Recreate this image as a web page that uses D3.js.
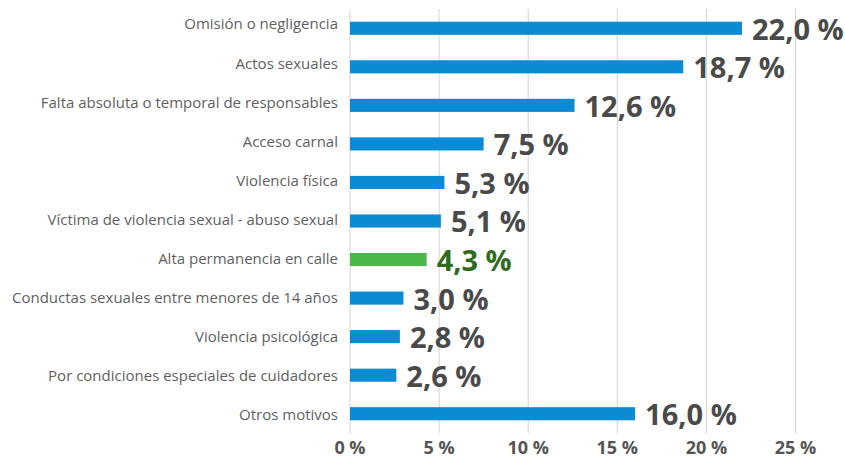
<!DOCTYPE html>
<html>
<head>
<meta charset="utf-8">
<script src="https://cdn.jsdelivr.net/npm/d3@7/dist/d3.min.js"></script>
<style>
  body { margin: 0; background: #fff; }
  svg { display: block; }
</style>
</head>
<body>
<div id="chart"></div>
<script>
// Motivos de ingreso (porcentaje)
const categories = [
  'Omisión o negligencia',
  'Actos sexuales',
  'Falta absoluta o temporal de responsables',
  'Acceso carnal',
  'Violencia física',
  'Víctima de violencia sexual - abuso sexual',
  'Alta permanencia en calle',
  'Conductas sexuales entre menores de 14 años',
  'Violencia psicológica',
  'Por condiciones especiales de cuidadores',
  'Otros motivos'
];
const values = [22.0, 18.7, 12.6, 7.5, 5.3, 5.1, 4.3, 3.0, 2.8, 2.6, 16.0];
const highlight = 'Alta permanencia en calle';
const xTicks = [0, 5, 10, 15, 20, 25];

const width = 845, height = 458;
const margin = { top: 9, right: 50, bottom: 25, left: 350 };

const fmt = v => v.toFixed(1).replace('.', ',') + ' %';

const svg = d3.select('#chart').append('svg')
  .attr('width', width).attr('height', height);

const x = d3.scaleLinear().domain([0, 25]).range([margin.left, 795.5]);
const y = d3.scaleBand().domain(categories)
  .range([margin.top, height - margin.bottom]).paddingInner(0.66).paddingOuter(0.33);
// las etiquetas de categoría van en una banda un poco más alta
const yLab = d3.scaleBand().domain(categories).range([4.5, 434.5]);

// grid
svg.append('g')
  .selectAll('line')
  .data(xTicks)
  .join('line')
  .attr('x1', d => x(d)).attr('x2', d => x(d))
  .attr('y1', margin.top).attr('y2', height - margin.bottom)
  .attr('stroke', '#d3d3d3').attr('stroke-width', 1);

// x axis labels
svg.append('g')
  .selectAll('text')
  .data(xTicks)
  .join('text')
  .attr('x', d => x(d)).attr('y', 454)
  .attr('text-anchor', 'middle')
  .attr('font-family', '"Open Sans", sans-serif')
  .attr('font-weight', 'bold').attr('font-size', 18)
  .attr('fill', '#555')
  .text(d => d + ' %');

const data = categories.map((c, i) => ({ cat: c, val: values[i] }));

// bars
svg.append('g')
  .selectAll('rect')
  .data(data)
  .join('rect')
  .attr('x', x(0))
  .attr('y', d => y(d.cat))
  .attr('width', d => x(d.val) - x(0))
  .attr('height', y.bandwidth())
  .attr('fill', d => d.cat === highlight ? '#4cb648' : '#0a8bd3');

// category labels
svg.append('g')
  .selectAll('text')
  .data(data)
  .join('text')
  .attr('x', 338)
  .attr('y', d => yLab(d.cat) + yLab.bandwidth() / 2)
  .attr('dy', '0.36em')
  .attr('text-anchor', 'end')
  .attr('font-family', '"Open Sans", sans-serif')
  .attr('font-size', 15)
  .attr('fill', '#5f5f5f')
  .text(d => d.cat);

// value labels
svg.append('g')
  .selectAll('text')
  .data(data)
  .join('text')
  .attr('x', d => x(d.val) + 10)
  .attr('y', d => y(d.cat) + y.bandwidth() / 2 + 1)
  .attr('dy', '0.36em')
  .attr('font-family', '"Open Sans", sans-serif')
  .attr('font-weight', 'bold').attr('font-size', 29)
  .attr('fill', d => d.cat === highlight ? '#2f6b20' : '#4a4a4a')
  .text(d => fmt(d.val));
</script>
</body>
</html>
